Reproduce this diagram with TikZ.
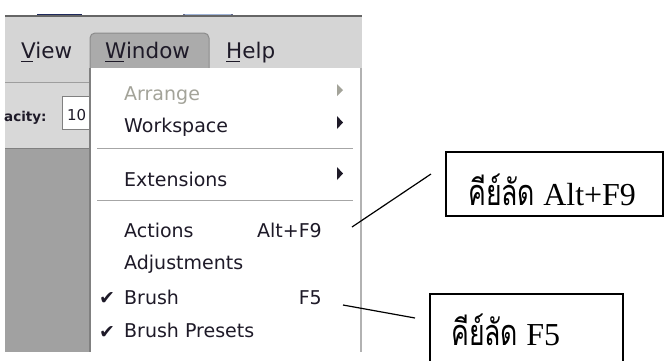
\documentclass[tikz,border=0pt]{standalone}
\usepackage{fontspec}
\setmainfont{Liberation Serif}
\newfontfamily\menufont{DejaVu Sans}
\newfontfamily\thaifont[Script=Thai,FakeStretch=0.74]{Loma}
\definecolor{barbg}{HTML}{D5D5D5}
\definecolor{toolbg}{HTML}{D8D8D8}
\definecolor{darkbg}{HTML}{A1A1A1}
\definecolor{btnfill}{HTML}{ABABAB}
\definecolor{btnline}{HTML}{8C8C8C}
\definecolor{sepline}{HTML}{A6A6A6}
\definecolor{menuink}{HTML}{1E1A28}
\definecolor{greyink}{HTML}{A3A399}
\definecolor{navy}{HTML}{1F2A5C}
\definecolor{lightblue}{HTML}{9FB3D6}
\newcommand{\thaiword}{{\thaifont\fontsize{36}{38}\selectfont คีย์ลัด}\hspace{8pt}}
\tikzset{
  bartext/.style={anchor=base west, inner sep=0pt, text=menuink, font=\menufont\fontsize{21.5}{24}\selectfont},
  itemtext/.style={anchor=base west, inner sep=0pt, text=menuink, font=\menufont\fontsize{19}{22}\selectfont},
  keytext/.style={anchor=base east, inner sep=0pt, text=menuink, font=\menufont\fontsize{19}{22}\selectfont},
  checktext/.style={anchor=base west, inner sep=0pt, text=menuink, font=\menufont\fontsize{19}{22}\selectfont},
  calloutbox/.style={draw=black, line width=1.2pt, fill=white},
  callouttext/.style={anchor=base west, inner sep=0pt, text=black, font=\fontsize{32}{36}\selectfont},
  leader/.style={draw=black, line width=1.2pt},
}
\begin{document}
\begin{tikzpicture}[x=1pt,y=-1pt]
\useasboundingbox (0,0) rectangle (667,360);
\fill[white] (0,0) rectangle (667,360);
\clip (0,0) rectangle (667,360);
% icon fragments above the window
\fill[navy] (37,13.5) rectangle (82,16);
\fill[lightblue] (183,13.5) rectangle (233,16);
\fill[navy!70] (183,13.5) rectangle (185,16);
\fill[navy!70] (231,13.5) rectangle (233,16);
% menu bar and toolbar
\fill[barbg] (5,16) rectangle (362,82);
\draw[line width=1.2pt, color=black!60] (5,16) -- (362,16);
\fill[toolbg] (5,82) rectangle (90,148);
\draw[line width=1pt, color=black!38] (5,82) -- (90,82);
\fill[darkbg] (5,148) rectangle (90,352);
\draw[line width=1pt, color=black!50] (5,148) -- (90,148);
% opacity field
\node[anchor=base west, inner sep=0pt, text=menuink, font=\menufont\bfseries\fontsize{13.5}{16}\selectfont] (opacity) at (4,121) {acity:};
\draw[fill=white, draw=black!50, line width=0.8pt] (62,96) rectangle (95,129);
\node[anchor=base west, inner sep=0pt, text=menuink, font=\menufont\fontsize{15}{18}\selectfont] (opval) at (67,120) {10};
% menu bar titles
\node[bartext] (view) at (21,58) {\rlap{\rule[-4pt]{12pt}{1.4pt}}View};
\node[bartext] (help) at (226,58) {\rlap{\rule[-4pt]{14pt}{1.4pt}}Help};
% Window button
\draw[fill=btnfill, draw=btnline, line width=1pt, rounded corners=5pt] (90,70) -- (90,33) -- (209,33) -- (209,70);
\node[bartext] (window) at (105,58) {\rlap{\rule[-4pt]{19pt}{1.4pt}}Window};
% dropdown
\fill[white] (90,68) rectangle (361,352);
\draw[line width=1.2pt, color=black!50] (90,68) -- (90,352);
\draw[line width=1.2pt, color=black!30] (361,68) -- (361,352);
% items
\node[itemtext, text=greyink] (arrange) at (124,100) {Arrange};
\node[itemtext] (workspace) at (124,132) {Workspace};
\draw[line width=1pt, color=sepline] (97,148) -- (353,148);
\node[itemtext] (extensions) at (124,186) {Extensions};
\draw[line width=1pt, color=sepline] (97,200) -- (353,200);
\node[itemtext] (actions) at (124,237) {Actions};
\node[keytext] (altf9) at (322,237) {Alt+F9};
\node[itemtext] (adjust) at (124,269) {Adjustments};
\node[checktext] (check1) at (99,304) {✔};
\node[itemtext] (brush) at (124,304) {Brush};
\node[keytext] (f5) at (322,304) {F5};
\node[checktext] (check2) at (99,338) {✔};
\node[itemtext] (presets) at (124,337) {Brush Presets};
% submenu arrows
\fill[greyink] (337,84) -- (343,90) -- (337,96) -- cycle;
\fill[menuink] (337,116) -- (343,122.5) -- (337,129) -- cycle;
\fill[menuink] (337,167) -- (343,173.5) -- (337,180) -- cycle;
% callouts
\draw[calloutbox] (446,152) rectangle (663,216);
\node[callouttext] (call1) at (468,205) {\thaiword Alt+F9};
\draw[calloutbox] (430,294) rectangle (623,372);
\node[callouttext] (call2) at (451,345) {\thaiword F5};
\coordinate (l1a) at (352,227);
\coordinate (l1b) at (431,174);
\coordinate (l2a) at (343,305);
\coordinate (l2b) at (415,318);
\draw[leader] (l1a) -- (l1b);
\draw[leader] (l2a) -- (l2b);
\end{tikzpicture}
\end{document}
